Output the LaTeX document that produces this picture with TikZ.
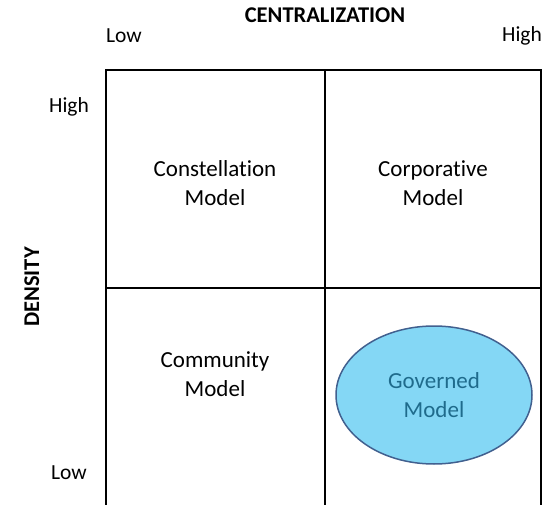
\documentclass[tikz,border=0pt]{standalone}
\usepackage{fontspec}
\setmainfont{Carlito}[Ligatures=NoCommon]
\usetikzlibrary{shapes.geometric}

\definecolor{govfill}{HTML}{84D7F5}
\definecolor{govline}{HTML}{41608F}
\definecolor{govtext}{HTML}{1F6B8C}

\begin{document}
\begin{tikzpicture}[x=1pt,y=-1pt,
    grid/.style={line width=2pt},
    quad/.style={align=center,font=\fontsize{23}{28.5}\selectfont},
    axis/.style={anchor=base,font=\fontsize{21.5}{24}\selectfont},
    title/.style={anchor=base,font=\fontsize{22.5}{24}\selectfont\bfseries},
    governed/.style={ellipse,draw=govline,line width=1.5pt,fill=govfill,
        text=govtext,minimum width=196pt,minimum height=138pt}
]
    \useasboundingbox (0,0) rectangle (546,505);

    % open-ended 2x2 grid
    \draw[grid] (106,505) -- (106,70) -- (541,70) -- (541,505);
    \draw[grid] (325,70) -- (325,505);
    \draw[grid] (106,288) -- (541,288);

    % axis labels
    \node[title] (centralization) at (325,23) {CENTRALIZATION};
    \node[axis] (cent-low) at (124,43) {Low};
    \node[axis] (cent-high) at (522,42) {High};
    \node[title,rotate=90] (density) at (39,287) {DENSITY};
    \node[axis] (dens-high) at (69,113) {High};
    \node[axis] (dens-low) at (69,479) {Low};

    % quadrants
    \node[quad] (constellation) at (215,183) {Constellation\\Model};
    \node[quad] (corporative) at (433,183) {Corporative\\Model};
    \node[quad] (community) at (215,374) {Community\\Model};
    \node[governed,quad] (governed) at (434,395) {Governed\\Model};

\end{tikzpicture}
\end{document}
